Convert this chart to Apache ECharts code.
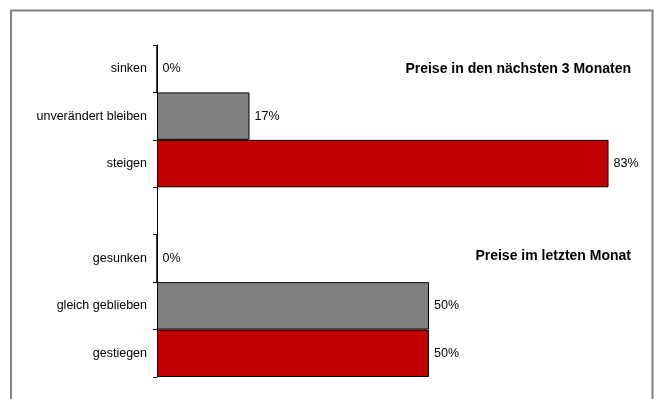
<!DOCTYPE html>
<html>
<head>
<meta charset="utf-8">
<script src="https://cdn.jsdelivr.net/npm/echarts@6/dist/echarts.min.js"></script>
<style>
  html, body { margin: 0; padding: 0; background: #fff; }
  #chart { width: 655px; height: 399px; }
</style>
</head>
<body>
<div id="chart"></div>
<script>
// Kategorien von oben nach unten, '' = Lücke zwischen den Gruppen
const categories = ['sinken', 'unverändert bleiben', 'steigen', '', 'gesunken', 'gleich geblieben', 'gestiegen'];
const shares = [0, 17, 83, null, 0, 50, 50];
const kinds = ['down', 'same', 'up', null, 'down', 'same', 'up'];
const groupTitles = ['Preise in den nächsten 3 Monaten', 'Preise im letzten Monat'];

const kindColor = { down: '#808080', same: '#808080', up: '#C00000' };
const font = 'Liberation Sans, Arial, sans-serif';

const myChart = echarts.init(document.getElementById('chart'));

const option = {
  backgroundColor: '#fff',
  animation: false,
  title: [
    {
      text: groupTitles[0],
      right: 19,
      top: 57,
      textStyle: { fontFamily: font, fontSize: 14, fontWeight: 'bold', color: '#000' }
    },
    {
      text: groupTitles[1],
      right: 19,
      top: 244,
      textStyle: { fontFamily: font, fontSize: 14, fontWeight: 'bold', color: '#000' }
    }
  ],
  graphic: [
    {
      type: 'rect',
      z: -1,
      shape: { x: 11, y: 10.5, width: 641.5, height: 500 },
      style: { fill: 'none', stroke: '#808080', lineWidth: 2 }
    }
  ],
  grid: {
    left: 157,
    top: 45,
    width: 544,
    height: 332,
    containLabel: false,
    outerBoundsMode: 'none'
  },
  xAxis: {
    type: 'value',
    min: 0,
    max: 100,
    show: false
  },
  yAxis: {
    type: 'category',
    inverse: true,
    data: categories,
    axisLine: { show: true, lineStyle: { color: '#000', width: 1 } },
    axisTick: { show: true, length: 4, interval: 0, lineStyle: { color: '#000' } },
    splitLine: { show: false },
    axisLabel: {
      interval: 0,
      margin: 10,
      color: '#000',
      fontFamily: font,
      fontSize: 12.5
    }
  },
  series: [
    {
      type: 'bar',
      barCategoryGap: '0%',
      data: shares.map((v, i) => ({
        value: v,
        itemStyle: { color: kinds[i] ? kindColor[kinds[i]] : '#808080' }
      })),
      itemStyle: { borderColor: '#000', borderWidth: 1 },
      label: {
        show: true,
        position: 'right',
        distance: 5,
        formatter: p => (p.value == null ? '' : p.value + '%'),
        color: '#000',
        fontFamily: font,
        fontSize: 12.5
      }
    }
  ]
};

myChart.setOption(option);
</script>
</body>
</html>
